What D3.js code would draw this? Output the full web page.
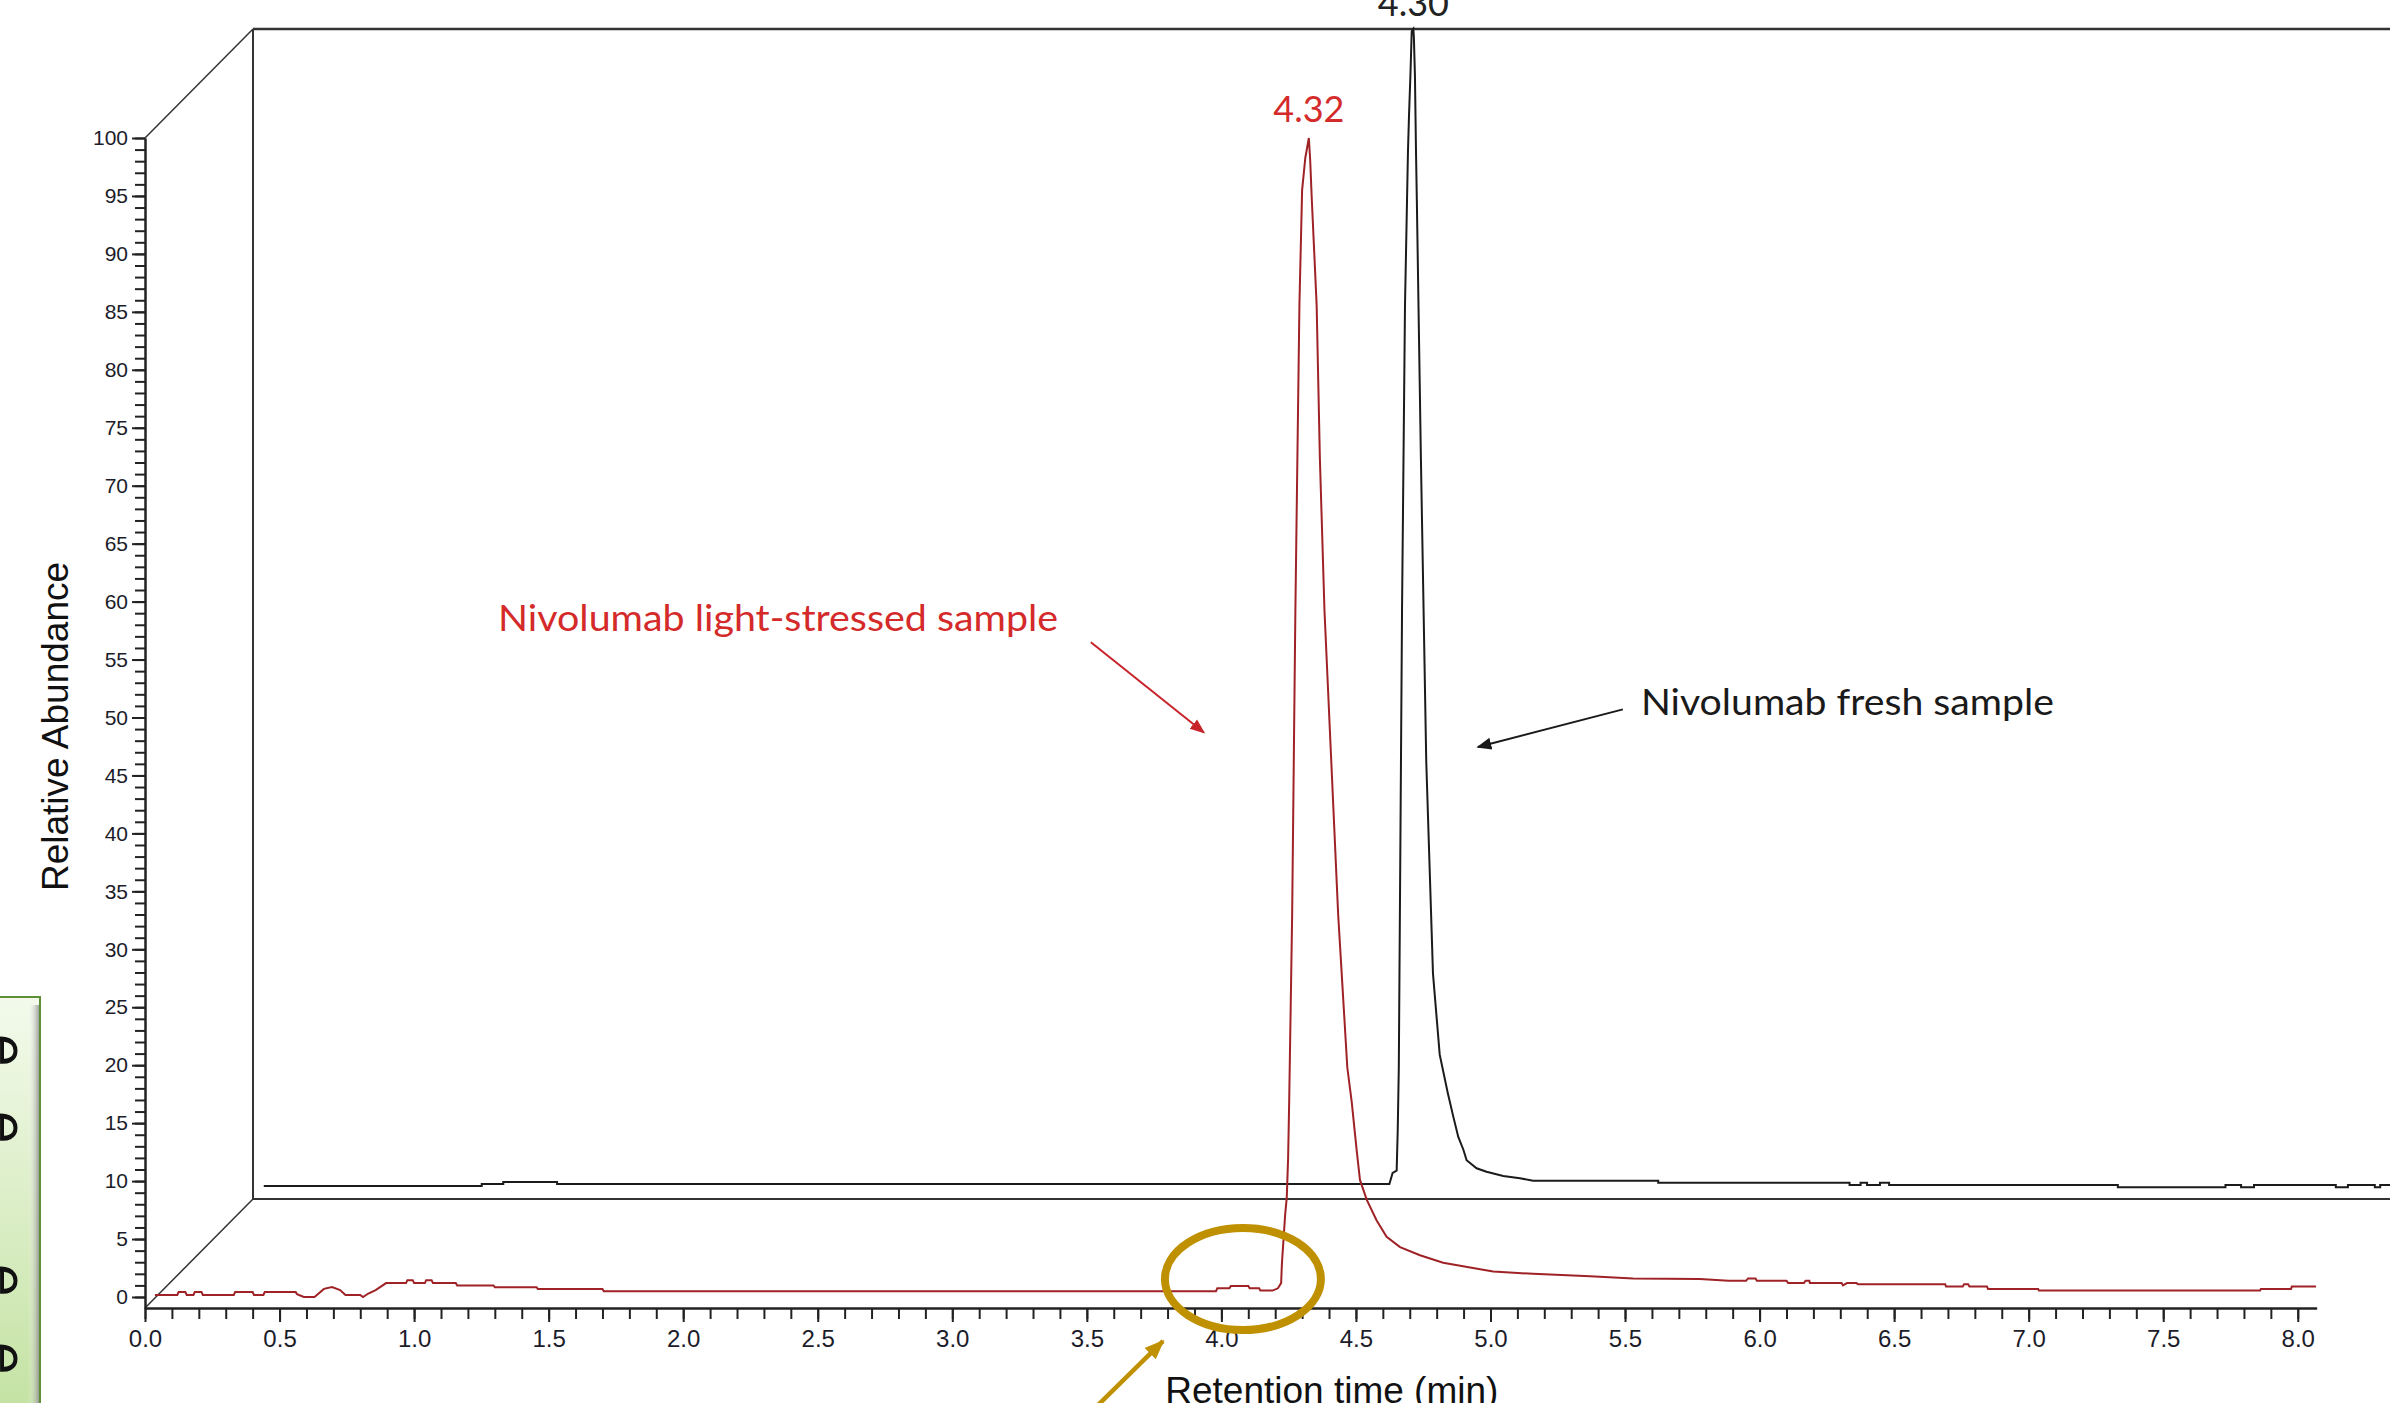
<!DOCTYPE html>
<html lang="en">
<head>
<meta charset="UTF-8">
<title>Nivolumab chromatogram</title>
<script src="https://d3js.org/d3.v7.min.js"></script>
<style>
    body { margin: 0; background: #fff; }
    svg { display: block; }
    .axis text { font-family: "Liberation Sans", Arial, sans-serif; fill: #1c1c2a; }
    .axis path, .axis line { stroke: #222; stroke-width: 2; }
    .title { font-family: "Liberation Sans", Arial, sans-serif; font-size: 37px; fill: #111; }
    .note { font-family: Lato, "Open Sans", sans-serif; font-size: 36px; }
</style>
</head>
<body>
<div id="chart"></div>
<script>
    // tick labels
    const xMajorTicks = [0, 0.5, 1, 1.5, 2, 2.5, 3, 3.5, 4, 4.5, 5, 5.5, 6, 6.5, 7, 7.5, 8];
    const xMinorTicks = d3.range(0, 8.05, 0.1);
    const yMajorTicks = d3.range(0, 101, 5);
    const yMinorTicks = d3.range(0, 101, 1);

    // fresh sample trace [time (min), relative abundance] - drawn on the back plane
    const freshTrace = [
        [0.04, 0.17], [0.85, 0.17], [0.85, 0.35], [0.93, 0.35], [0.93, 0.52], [1.13, 0.52], [1.13, 0.35],
        [4.223, 0.35], [4.235, 1.3], [4.25, 1.5], [4.254, 5.0], [4.258, 10.4], [4.27, 49.9], [4.281, 76.2],
        [4.292, 89.4], [4.296, 92.6], [4.301, 95.9], [4.306, 99.8], [4.312, 100],
        [4.314, 99.3], [4.318, 95.9], [4.322, 89.3], [4.325, 85.2], [4.34, 63.1], [4.36, 36.8], [4.385, 18.5],
        [4.41, 11.5], [4.44, 8.2], [4.46, 6.2], [4.479, 4.4], [4.498, 3.3], [4.51, 2.4], [4.547, 1.7],
        [4.584, 1.4], [4.646, 1.04], [4.708, 0.84], [4.757, 0.63], [5.222, 0.63], [5.222, 0.46],
        [5.933, 0.46], [5.933, 0.26], [5.974, 0.26], [5.974, 0.46], [5.998, 0.46], [5.998, 0.26],
        [6.046, 0.26], [6.046, 0.46], [6.08, 0.46], [6.08, 0.26], [6.93, 0.26], [6.93, 0.06], [7.33, 0.06],
        [7.33, 0.26], [7.388, 0.26], [7.388, 0.06], [7.436, 0.06], [7.436, 0.26], [7.74, 0.26], [7.74, 0.06],
        [7.785, 0.06], [7.785, 0.26], [7.885, 0.26], [7.885, 0.06], [7.905, 0.06], [7.905, 0.26], [8.07, 0.26]
    ];

    // light-stressed sample trace [time (min), relative abundance] - front plane
    const stressedTrace = [
        [0.037, 0.17], [0.12, 0.17], [0.125, 0.42], [0.15, 0.42], [0.155, 0.17], [0.18, 0.17], [0.185, 0.42],
        [0.21, 0.42], [0.215, 0.17], [0.33, 0.17], [0.335, 0.42], [0.40, 0.42], [0.405, 0.17], [0.44, 0.17],
        [0.445, 0.42], [0.56, 0.42], [0.565, 0.25], [0.59, 0.0], [0.63, 0.0], [0.665, 0.7], [0.695, 0.85],
        [0.725, 0.6], [0.745, 0.17], [0.80, 0.17], [0.81, 0.0], [0.83, 0.3], [0.857, 0.6], [0.896, 1.2],
        [0.97, 1.2], [0.975, 1.45], [0.995, 1.45], [1.0, 1.2], [1.04, 1.2], [1.045, 1.45], [1.065, 1.45],
        [1.07, 1.2], [1.155, 1.2], [1.16, 1.0], [1.295, 1.0], [1.30, 0.85], [1.455, 0.85], [1.46, 0.7],
        [1.70, 0.7], [1.705, 0.5], [3.98, 0.5], [3.985, 0.75], [4.03, 0.75], [4.035, 0.95], [4.10, 0.95],
        [4.105, 0.75], [4.14, 0.75], [4.145, 0.55], [4.19, 0.55], [4.21, 0.75], [4.222, 1.2], [4.225, 2.9],
        [4.237, 7.1], [4.243, 8.6], [4.248, 12], [4.252, 16.9], [4.263, 33], [4.275, 59.3], [4.29, 85.6],
        [4.30, 95.5], [4.312, 98.3], [4.325, 100], [4.33, 98.1], [4.336, 94.7], [4.354, 85.6],
        [4.366, 72.4], [4.383, 59.3], [4.434, 33], [4.468, 19.8], [4.484, 16.9], [4.503, 12.6], [4.515, 10.1],
        [4.54, 8.4], [4.577, 6.6], [4.614, 5.2], [4.664, 4.3], [4.738, 3.6], [4.824, 2.95], [4.935, 2.5],
        [5.01, 2.2], [5.158, 2.0], [5.37, 1.8], [5.53, 1.6], [5.778, 1.55], [5.885, 1.4], [5.95, 1.4],
        [5.957, 1.6], [5.985, 1.6], [5.99, 1.4], [6.10, 1.4], [6.106, 1.2], [6.165, 1.2], [6.171, 1.4],
        [6.185, 1.4], [6.187, 1.2], [6.305, 1.2], [6.31, 1.0], [6.325, 1.2], [6.36, 1.2], [6.366, 1.1],
        [6.69, 1.1], [6.693, 0.9], [6.755, 0.9], [6.76, 1.1], [6.775, 1.1], [6.78, 0.9], [6.845, 0.9],
        [6.849, 0.7], [7.035, 0.7], [7.038, 0.55], [7.86, 0.55], [7.863, 0.7], [7.975, 0.7], [7.978, 0.9],
        [8.068, 0.9]
    ];

    // peak labels
    const freshPeakLabel = "4.30";
    const stressedPeakLabel = "4.32";

    // annotations (anchors in data units)
    const stressedNote = { text: "Nivolumab light-stressed sample", t: 1.312, v: 57.5, from: [3.515, 56.5], to: [3.935, 48.7] };
    const freshNote = { text: "Nivolumab fresh sample", t: 5.559, v: 50.2, from: [5.492, 50.7], to: [4.953, 47.45] };
    const circleMark = { t: 4.08, v: 1.55 };
    const goldArrow = { from: [3.523, -9.75], to: [3.783, -3.8] };
    // letters of the cut-off side box
    const boxLetters = ["e", "e", "e", "e"];
    const boxLetterY = [1050, 1127, 1280, 1358];

    const width = 2390;
    const height = 1403;
    const depth = { dx: 108, dy: -109 };

    const x = d3.scaleLinear().domain([0, 8.07]).range([145, 2316.6]);
    const y = d3.scaleLinear().domain([-0.95, 100]).range([1308, 138]);

    const svg = d3.select('#chart')
        .append('svg')
        .attr('width', width)
        .attr('height', height);

    const defs = svg.append('defs');
    const addMarker = (id, color, size) => {
        defs.append('marker')
            .attr('id', id)
            .attr('viewBox', '0 0 10 10')
            .attr('refX', 9).attr('refY', 5)
            .attr('markerUnits', 'userSpaceOnUse')
            .attr('markerWidth', size).attr('markerHeight', size)
            .attr('orient', 'auto')
            .append('path')
            .attr('d', 'M0,1 L10,5 L0,9 Z')
            .attr('fill', color);
    };
    addMarker('arrowRed', '#c8232b', 15);
    addMarker('arrowBlack', '#1a1a1a', 15);
    addMarker('arrowGold', '#bf9000', 20);

    const greenGrad = defs.append('linearGradient').attr('id', 'greenGrad')
        .attr('x1', 0).attr('y1', 0).attr('x2', 0).attr('y2', 1);
    greenGrad.append('stop').attr('offset', '0%').attr('stop-color', '#f3faec');
    greenGrad.append('stop').attr('offset', '100%').attr('stop-color', '#c4e2a2');
    const shadeGrad = defs.append('linearGradient').attr('id', 'shadeGrad');
    shadeGrad.append('stop').attr('offset', '0%').attr('stop-color', '#ffffff').attr('stop-opacity', 0);
    shadeGrad.append('stop').attr('offset', '100%').attr('stop-color', '#8a8a8a').attr('stop-opacity', 0.8);

    // green box cut by the left edge
    const box = svg.append('g');
    box.append('rect').attr('x', -10).attr('y', 997).attr('width', 50).attr('height', 420)
        .attr('fill', 'url(#greenGrad)').attr('stroke', '#5f8f35').attr('stroke-width', 2);
    box.append('rect').attr('x', 28).attr('y', 1005).attr('width', 11).attr('height', 410)
        .attr('fill', 'url(#shadeGrad)');
    box.selectAll('.letter')
        .data(boxLetters)
        .enter().append('text')
        .attr('class', 'letter')
        .attr('transform', (d, i) => `translate(-15,${boxLetterY[i]}) rotate(90)`)
        .attr('text-anchor', 'middle')
        .attr('font-family', '"Open Sans", sans-serif')
        .attr('font-size', 60)
        .attr('fill', '#111')
        .text(d => d);

    // back plane frame
    const bx0 = x(0) + depth.dx, bx1 = x(8.07) + depth.dx;
    const byTop = y(100) + depth.dy, byBot = y(-0.95) + depth.dy;
    const frame = svg.append('g').attr('stroke', '#333').attr('fill', 'none');
    frame.append('line').attr('x1', bx0).attr('y1', byTop).attr('x2', bx1).attr('y2', byTop).attr('stroke-width', 2.5);
    frame.append('line').attr('x1', bx0).attr('y1', byTop).attr('x2', bx0).attr('y2', byBot).attr('stroke-width', 2);
    frame.append('line').attr('x1', bx0).attr('y1', byBot).attr('x2', bx1).attr('y2', byBot).attr('stroke-width', 2);
    frame.append('line').attr('x1', x(0)).attr('y1', y(100)).attr('x2', bx0).attr('y2', byTop).attr('stroke-width', 1.5);
    frame.append('line').attr('x1', x(0)).attr('y1', y(-0.95)).attr('x2', bx0).attr('y2', byBot).attr('stroke-width', 1.5);

    // x axis: minor and major ticks
    svg.append('g').attr('class', 'axis')
        .attr('transform', `translate(0,${y(-0.95)})`)
        .call(d3.axisBottom(x).tickValues(xMinorTicks).tickSize(11).tickSizeOuter(0).tickFormat(''));
    svg.append('g').attr('class', 'axis')
        .attr('transform', `translate(0,${y(-0.95)})`)
        .call(d3.axisBottom(x).tickValues(xMajorTicks).tickSize(14).tickSizeOuter(0).tickPadding(8).tickFormat(d3.format('.1f')))
        .selectAll('text').style('font-size', '24px');

    // y axis: minor and major ticks
    svg.append('g').attr('class', 'axis')
        .attr('transform', `translate(${x(0)},0)`)
        .call(d3.axisLeft(y).tickValues(yMinorTicks).tickSize(10).tickSizeOuter(0).tickFormat(''));
    svg.append('g').attr('class', 'axis')
        .attr('transform', `translate(${x(0)},0)`)
        .call(d3.axisLeft(y).tickValues(yMajorTicks).tickSize(13).tickSizeOuter(0).tickPadding(4))
        .selectAll('text').style('font-size', '21px');

    // axis titles
    svg.append('text').attr('class', 'title')
        .attr('x', (x(0) + x(8.07)) / 2 + 101).attr('y', 1403)
        .attr('text-anchor', 'middle')
        .text('Retention time (min)');
    svg.append('text').attr('class', 'title')
        .attr('transform', `translate(68,${(y(0) + y(100)) / 2 + 9}) rotate(-90)`)
        .attr('text-anchor', 'middle')
        .text('Relative Abundance');

    // traces
    const line = d3.line().x(d => x(d[0])).y(d => y(d[1]));

    svg.append('path')
        .datum(freshTrace)
        .attr('transform', `translate(${depth.dx},${depth.dy})`)
        .attr('d', line)
        .attr('fill', 'none')
        .attr('stroke', '#1b1b1b')
        .attr('stroke-width', 2);

    svg.append('path')
        .datum(stressedTrace)
        .attr('d', line)
        .attr('fill', 'none')
        .attr('stroke', '#9e2226')
        .attr('stroke-width', 2);

    // peak labels
    const freshPeak = d3.greatest(freshTrace, d => d[1]);
    const stressedPeak = d3.greatest(stressedTrace, d => d[1]);
    svg.append('text').attr('class', 'note')
        .attr('x', x(freshPeak[0]) + depth.dx).attr('y', y(freshPeak[1]) + depth.dy - 13)
        .attr('text-anchor', 'middle').attr('fill', '#222')
        .text(freshPeakLabel);
    svg.append('text').attr('class', 'note')
        .attr('x', x(stressedPeak[0])).attr('y', y(stressedPeak[1]) - 16)
        .attr('text-anchor', 'middle').attr('fill', '#d42a2a')
        .text(stressedPeakLabel);

    // annotations
    svg.append('text').attr('class', 'note')
        .attr('x', x(stressedNote.t)).attr('y', y(stressedNote.v))
        .attr('fill', '#d42a2a')
        .attr('textLength', 560).attr('lengthAdjust', 'spacingAndGlyphs')
        .text(stressedNote.text);
    svg.append('line')
        .attr('x1', x(stressedNote.from[0])).attr('y1', y(stressedNote.from[1]))
        .attr('x2', x(stressedNote.to[0])).attr('y2', y(stressedNote.to[1]))
        .attr('stroke', '#c8232b').attr('stroke-width', 2)
        .attr('marker-end', 'url(#arrowRed)');

    svg.append('text').attr('class', 'note')
        .attr('x', x(freshNote.t)).attr('y', y(freshNote.v))
        .attr('fill', '#1a1a1a')
        .attr('textLength', 413).attr('lengthAdjust', 'spacingAndGlyphs')
        .text(freshNote.text);
    svg.append('line')
        .attr('x1', x(freshNote.from[0])).attr('y1', y(freshNote.from[1]))
        .attr('x2', x(freshNote.to[0])).attr('y2', y(freshNote.to[1]))
        .attr('stroke', '#1a1a1a').attr('stroke-width', 2)
        .attr('marker-end', 'url(#arrowBlack)');

    // gold circle around the small pre-peak and its arrow
    svg.append('ellipse')
        .attr('cx', x(circleMark.t)).attr('cy', y(circleMark.v))
        .attr('rx', 78).attr('ry', 51)
        .attr('fill', 'none').attr('stroke', '#bf9000').attr('stroke-width', 8);
    svg.append('line')
        .attr('x1', x(goldArrow.from[0])).attr('y1', y(goldArrow.from[1]))
        .attr('x2', x(goldArrow.to[0])).attr('y2', y(goldArrow.to[1]))
        .attr('stroke', '#bf9000').attr('stroke-width', 4.5)
        .attr('marker-end', 'url(#arrowGold)');
</script>
</body>
</html>
